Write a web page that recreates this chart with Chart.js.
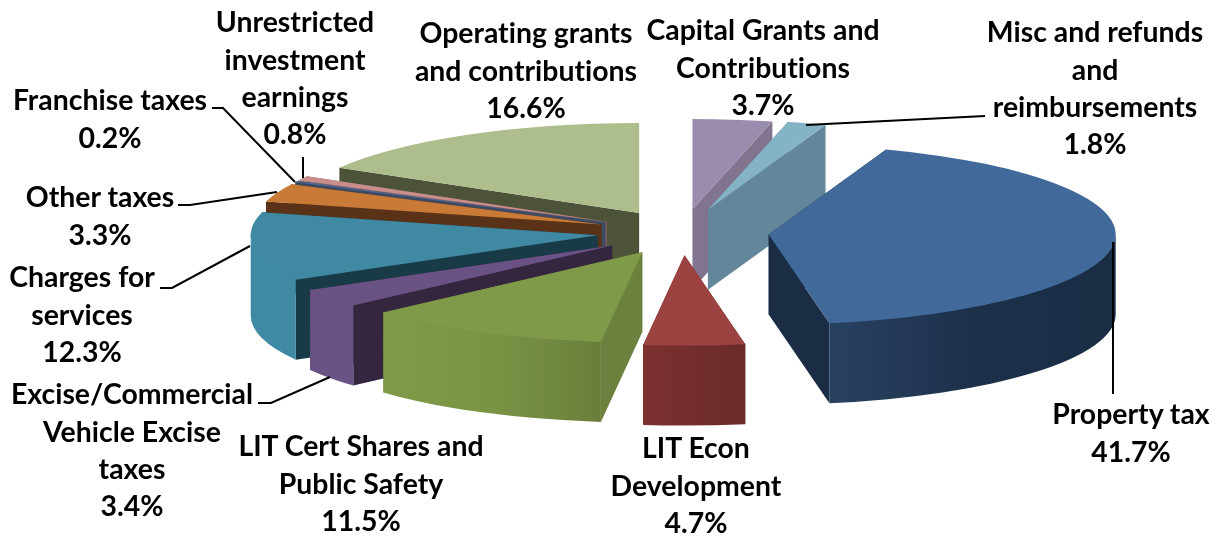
<!DOCTYPE html>
<html>
<head>
<meta charset="utf-8">
<style>html,body{margin:0;padding:0;background:#fff}canvas{display:block}</style>
<script src="https://cdn.jsdelivr.net/npm/chart.js@4"></script>
</head>
<body>
<canvas id="c" width="1218" height="536"></canvas>
<script>
const categories = ["Capital Grants and Contributions","Misc and refunds and reimbursements","Property tax","LIT Econ Development","LIT Cert Shares and Public Safety","Excise/Commercial Vehicle Excise taxes","Charges for services","Other taxes","Franchise taxes","Unrestricted investment earnings","Operating grants and contributions"];
const shares = [3.7,1.8,41.7,4.7,11.5,3.4,12.3,3.3,0.2,0.8,16.6];

// Styling and layout (not data)
const topColors  = ["#9a8cae","#84b3c6","#416a9b","#9c4240","#7f9a48","#6a5285","#3f89a3","#ca7a37","#4f6e9e","#c98e8c","#adbd8b"];
const cutColors  = ["#80748f","#64869a","#1a2d45","#6e2c2b","#6c813d","#352640","#193b47","#593218","#3d4a63","#8a6463","#4c5339"];
const wallLeft   = ["#80748f","#64869a","#294262","#7c302f","#7f9a48","#6a5285","#3e8aa5","#593218","#3d4a63","#8a6463","#4c5339"];
const wallMid    = ["#80748f","#64869a","#1c304a","#732e2d","#7a9445","#6a5285","#3f8aa4","#593218","#3d4a63","#8a6463","#4c5339"];
const wallRight  = ["#80748f","#64869a","#1a2d45","#6a2b2a","#6a7e3a","#6a5285","#3f89a3","#593218","#3d4a63","#8a6463","#4c5339"];
const explode    = [90,91,87,88,86,86,85,86,86,86,86];
const paintOrder = [10,9,8,7,6,5,4,0,1,2,3];
const SQUASH = 0.26, DEPTH = 80, RADIUS = 347;
const labelLines = [["Capital Grants and","Contributions"],["Misc and refunds","and","reimbursements"],["Property tax"],["LIT Econ","Development"],["LIT Cert Shares and","Public Safety"],["Excise/Commercial","Vehicle Excise","taxes"],["Charges for","services"],["Other taxes"],["Franchise taxes"],["Unrestricted","investment","earnings"],["Operating grants","and contributions"]];
const labelAnchor = [[763,31],[1095,33],[1131,415],[696,449],[361,447],[132,395],[82,278],[100,198],[110,101],[295,23],[526,34]];
const LINE_H = 37.4;
const leaders = [
  [[806,125],[985,116]],
  [[1113,242],[1113,394]],
  [[330,377],[271,403],[258,403]],
  [[250,246],[172,288],[160,288]],
  [[277,192],[190,205],[178,205]],
  [[295,182],[223,108],[212,108]],
  [[303,157],[303,178]]
];

const pie3d = {
  id:'pie3d',
  beforeDatasetDraw(chart){
    const ctx = chart.ctx, arcs = chart.getDatasetMeta(0).data;
    for(const i of paintOrder){
      const arc = arcs[i];
      const a0 = arc.startAngle, a1 = arc.endAngle, R = arc.outerRadius, m = (a0+a1)/2;
      const ax = arc.x + Math.cos(m)*explode[i], ay = arc.y + Math.sin(m)*explode[i]*SQUASH;
      const ry = R*SQUASH;
      const pt = a => [ax+Math.cos(a)*R, ay+Math.sin(a)*ry];
      // radial cut faces
      ctx.fillStyle = cutColors[i];
      for(const a of [a0,a1]){
        const p = pt(a);
        ctx.beginPath();
        ctx.moveTo(ax,ay); ctx.lineTo(p[0],p[1]); ctx.lineTo(p[0],p[1]+DEPTH); ctx.lineTo(ax,ay+DEPTH); ctx.closePath();
        ctx.fill();
      }
      // outer wall, only the front half of the ellipse (starts 1px up to hide the seam under the top face)
      const w0 = Math.max(a0,0), w1 = Math.min(a1,Math.PI);
      if(w1>w0){
        const pl = pt(w0), pr = pt(w1);
        const g = ctx.createLinearGradient(Math.min(pl[0],pr[0]),0,Math.max(pl[0],pr[0]),0);
        g.addColorStop(0,wallLeft[i]); g.addColorStop(0.5,wallMid[i]); g.addColorStop(1,wallRight[i]);
        ctx.fillStyle = g;
        ctx.beginPath();
        ctx.ellipse(ax,ay-1,R,ry,0,w0,w1);
        ctx.ellipse(ax,ay+DEPTH,R,ry,0,w1,w0,true);
        ctx.closePath();
        ctx.fill();
      }
      // top face: the library's own arc, under a squash transform
      ctx.save();
      ctx.translate(ax,ay); ctx.scale(1,SQUASH); ctx.translate(-arc.x,-arc.y);
      arc.draw(ctx);
      ctx.restore();
    }
    return false;
  },
  afterDatasetsDraw(chart){
    const ctx = chart.ctx;
    ctx.strokeStyle='#000'; ctx.lineWidth=2;
    for(const l of leaders){
      ctx.beginPath();
      l.forEach((p,j)=> j?ctx.lineTo(p[0],p[1]):ctx.moveTo(p[0],p[1]));
      ctx.stroke();
    }
    ctx.fillStyle='#000'; ctx.textAlign='center'; ctx.textBaseline='middle';
    ctx.font='bold 28.4px Lato, "Open Sans", sans-serif';
    ctx.fontKerning='normal';
    ctx.letterSpacing='0.01px';
    labelLines.forEach((lines,i)=>{
      const [x,y]=labelAnchor[i];
      [...lines, shares[i].toFixed(1)+'%'].forEach((t,j)=>ctx.fillText(t,x,y+j*LINE_H));
    });
  }
};

new Chart(document.getElementById('c'),{
  type:'pie',
  data:{labels:categories,datasets:[{data:shares,backgroundColor:topColors,borderWidth:0,radius:RADIUS}]},
  options:{
    responsive:false,animation:false,rotation:0,
    layout:{padding:{left:146,right:0,top:0,bottom:71}},
    plugins:{legend:{display:false},tooltip:{enabled:false},title:{display:false}}
  },
  plugins:[pie3d]
});
</script>
</body>
</html>
